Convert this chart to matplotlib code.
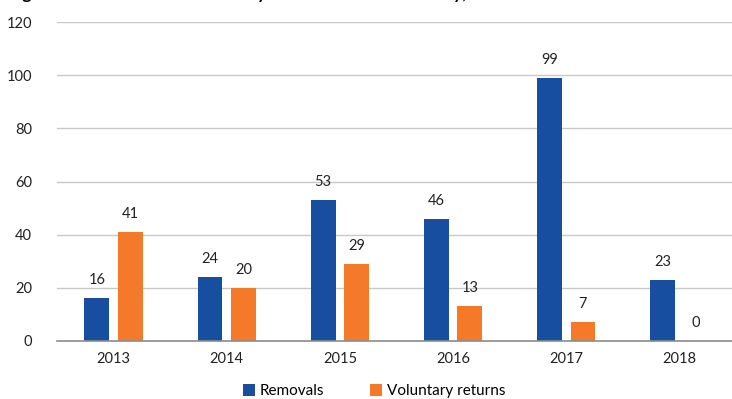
import matplotlib
matplotlib.use("Agg")
import matplotlib.pyplot as plt
import numpy as np

years = ["2013", "2014", "2015", "2016", "2017", "2018"]
removals = [16, 24, 53, 46, 99, 23]
voluntary = [41, 20, 29, 13, 7, 0]
series_names = ["Removals", "Voluntary returns"]
yticks = [0, 20, 40, 60, 80, 100, 120]

blue = "#174EA0"
orange = "#F47A2A"

plt.rcParams['font.family'] = ['Lato', 'DejaVu Sans']

fig = plt.figure(figsize=(7.32, 3.99), dpi=100)
ax = fig.add_axes([57/732, 1 - 341/399, (736 - 57)/732, (341 - 22)/399])

x = np.arange(len(years))
w = 0.22
off = 0.148
b1 = ax.bar(x - off, removals, w, color=blue, label=series_names[0], zorder=3)
b2 = ax.bar(x + off, voluntary, w, color=orange, label=series_names[1], zorder=3)

for rect, v in zip(b1, removals):
    ax.annotate(str(v), (rect.get_x() + rect.get_width()/2, v), xytext=(0, 8),
                textcoords="offset points", ha="center", va="bottom", fontsize=10.5, color="#222222")
for rect, v in zip(b2, voluntary):
    ax.annotate(str(v), (rect.get_x() + rect.get_width()/2, v), xytext=(0, 8),
                textcoords="offset points", ha="center", va="bottom", fontsize=10.5, color="#222222")

ax.set_xlim(-0.5, len(years) - 0.5)
ax.set_ylim(0, 120)
ax.set_yticks(yticks)
ax.set_xticks(x)
ax.set_xticklabels(years)
ax.tick_params(axis="both", length=0, labelsize=10.5, colors="#222222")
ax.tick_params(axis="y", pad=18)
ax.tick_params(axis="x", pad=8)
ax.grid(axis="y", color="#C8C8C8", linewidth=1.0, zorder=0)
for s in ["top", "right", "left"]:
    ax.spines[s].set_visible(False)
ax.spines["bottom"].set_color("#8C8C8C")
ax.spines["bottom"].set_linewidth(1.2)
ax.spines["bottom"].set_zorder(4)

fig.legend(handles=[b1, b2], loc="center", bbox_to_anchor=(374/732, 1 - 391/399),
           ncol=2, frameon=False, fontsize=11, handlelength=0.8, handleheight=0.8,
           handletextpad=0.3, columnspacing=3.0)

fig.text(8/732, 1 + 1.2/399, "Figure 6: Removals and voluntary returns from the country, 2013–2018",
         fontsize=12.5, fontweight="bold", ha="left", va="baseline")

fig.savefig("out.png", dpi=100)
